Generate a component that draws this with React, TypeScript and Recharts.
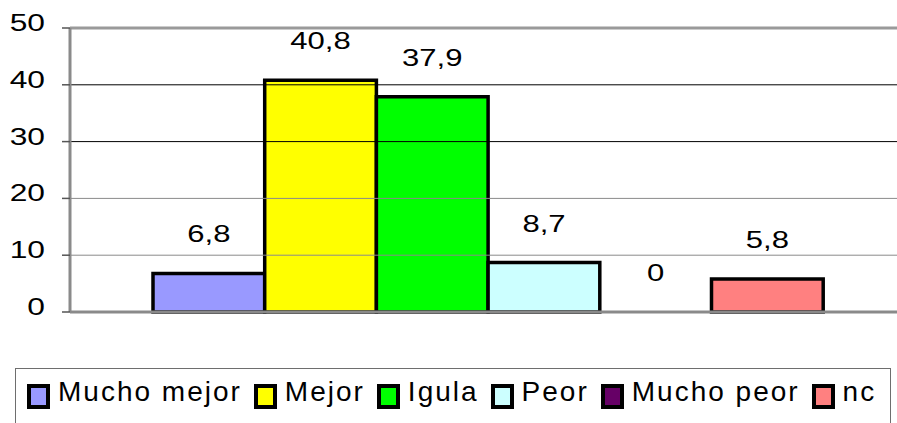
import React from 'react';
import { BarChart, Bar, XAxis, YAxis, ReferenceLine, LabelList, Rectangle } from 'recharts';

const categories = ['Total'];
const seriesNames = ['Mucho mejor', 'Mejor', 'Igula', 'Peor', 'Mucho peor', 'nc'];
const seriesValues = [6.8, 40.8, 37.9, 8.7, 0, 5.8];
const seriesColors = ['#9999FF', '#FFFF00', '#00FF00', '#CCFFFF', '#660066', '#FF8080'];
const yTicks = [0, 10, 20, 30, 40, 50];
const gridColors: Record<number, string> = { 10: '#8a8a8a', 20: '#8a8a8a', 30: '#000000', 40: '#000000' };

const data = categories.map((c) => {
  const row: Record<string, string | number> = { name: c };
  seriesNames.forEach((n, i) => {
    row[n] = seriesValues[i];
  });
  return row;
});

const FONT = 'Arial, "Liberation Sans", Helvetica, sans-serif';

const YTick = (props: any) => {
  const { x, y, payload } = props;
  return (
    <g transform={`translate(${x},${y + 3})`}>
      <text
        transform="scale(1.38,1)"
        x={0}
        y={0}
        textAnchor="end"
        style={{ fontSize: 23, fontFamily: FONT }}
        fontSize={23}
        fill="#000"
      >
        {payload.value}
      </text>
    </g>
  );
};

const makeLabel = () => (props: any) => {
  const { x, y, width, value } = props;
  if (x == null || y == null) return null;
  return (
    <g transform={`translate(${Number(x) + Number(width) / 2},${Number(y) - 31})`}>
      <text
        transform="scale(1.35,1)"
        x={0}
        y={0}
        textAnchor="middle"
        style={{ fontSize: 23, fontFamily: FONT }}
        fill="#000"
      >
        {String(value).replace('.', ',')}
      </text>
    </g>
  );
};

const BarShape = (props: any) => {
  if (!props.height || Math.abs(props.height) < 0.5) return <g />;
  return <Rectangle {...props} />;
};

const LegendBox = () => (
  <div
    style={{
      position: 'absolute',
      left: 15,
      top: 368,
      width: 876,
      height: 70,
      border: '1px solid #6e6e6e',
      boxSizing: 'border-box',
      background: '#fff',
    }}
  >
    <div
      style={{
        position: 'absolute',
        left: 11,
        top: 8,
        display: 'flex',
        alignItems: 'flex-start',
        whiteSpace: 'nowrap',
        fontFamily: FONT,
        fontSize: 28,
        lineHeight: '30px',
        letterSpacing: '2px',
        color: '#000',
      }}
    >
      {seriesNames.map((n, i) => (
        <div key={n} style={{ display: 'flex', alignItems: 'flex-start', marginRight: 12 }}>
          <div
            style={{
              width: 23,
              height: 25,
              marginTop: 7,
              boxSizing: 'border-box',
              border: '4px solid #000',
              background: seriesColors[i],
            }}
          />
          <span style={{ marginLeft: 8 }}>{n}</span>
        </div>
      ))}
    </div>
  </div>
);

export default function App() {
  return (
    <div
      style={{
        position: 'absolute',
        left: 0,
        top: 0,
        width: 897,
        height: 423,
        overflow: 'hidden',
        background: '#fff',
      }}
    >
      <BarChart
        width={916}
        height={423}
        data={data}
        margin={{ top: 28, right: 10, left: 0, bottom: 111 }}
        barGap={0}
        barSize={111.7}
      >
        <XAxis dataKey="name" hide />
        <YAxis
          width={70}
          domain={[0, 50]}
          ticks={yTicks}
          interval={0}
          tick={<YTick />}
          tickSize={8}
          tickMargin={17}
          tickLine={{ stroke: '#555', strokeWidth: 1.5 }}
          axisLine={{ stroke: '#8a8a8a', strokeWidth: 3 }}
        />
        {yTicks
          .filter((t) => t > 0 && t < 50)
          .map((t) => (
            <ReferenceLine key={t} y={t} stroke={gridColors[t]} strokeWidth={1} ifOverflow="visible" />
          ))}
        <ReferenceLine y={50} stroke="#9a9a9a" strokeWidth={3} ifOverflow="visible" />
        {seriesNames.map((n, i) => (
          <Bar
            key={n}
            dataKey={n}
            fill={seriesColors[i]}
            stroke="#000"
            strokeWidth={3.5}
            minPointSize={0.01}
            shape={<BarShape />}
            isAnimationActive={false}
          >
            <LabelList dataKey={n} content={makeLabel()} />
          </Bar>
        ))}
        <ReferenceLine y={0} stroke="#8a8a8a" strokeWidth={3} ifOverflow="visible" />
      </BarChart>
      <LegendBox />
    </div>
  );
}
